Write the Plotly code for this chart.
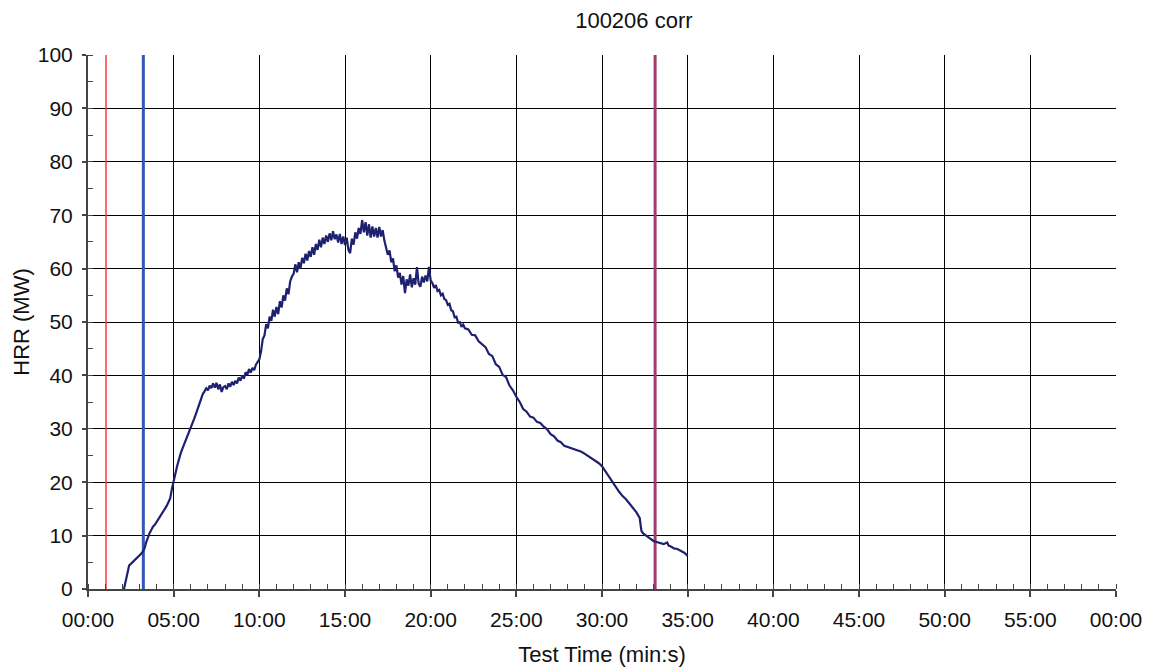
import plotly.graph_objects as go

# ---- data ----
time_min = [
    2.10, 2.20, 2.30, 2.40, 2.50, 2.60, 2.70, 2.80, 2.90, 3.00,
    3.10, 3.20, 3.30, 3.40, 3.50, 3.60, 3.70, 3.80, 3.90, 4.00,
    4.10, 4.20, 4.30, 4.40, 4.50, 4.60, 4.70, 4.80, 4.90, 5.00,
    5.10, 5.20, 5.30, 5.40, 5.50, 5.60, 5.70, 5.80, 5.90, 6.00,
    6.10, 6.20, 6.30, 6.40, 6.50, 6.60, 6.70, 6.80, 6.90, 7.00,
    7.10, 7.20, 7.30, 7.40, 7.50, 7.60, 7.70, 7.80, 7.90, 8.00,
    8.10, 8.20, 8.30, 8.40, 8.50, 8.60, 8.70, 8.80, 8.90, 9.00,
    9.10, 9.20, 9.30, 9.40, 9.50, 9.60, 9.70, 9.80, 9.90, 10.00,
    10.1, 10.2, 10.3, 10.4, 10.5, 10.6, 10.7, 10.8, 10.9, 11.0,
    11.1, 11.2, 11.3, 11.4, 11.5, 11.6, 11.7, 11.8, 11.9, 12.0,
    12.1, 12.2, 12.3, 12.4, 12.5, 12.6, 12.7, 12.8, 12.9, 13.0,
    13.1, 13.2, 13.3, 13.4, 13.5, 13.6, 13.7, 13.8, 13.9, 14.0,
    14.1, 14.2, 14.3, 14.4, 14.5, 14.6, 14.7, 14.8, 14.9, 15.0,
    15.1, 15.2, 15.3, 15.4, 15.5, 15.6, 15.7, 15.8, 15.9, 16.0,
    16.1, 16.2, 16.3, 16.4, 16.5, 16.6, 16.7, 16.8, 16.9, 17.0,
    17.1, 17.2, 17.3, 17.4, 17.5, 17.6, 17.7, 17.8, 17.9, 18.0,
    18.1, 18.2, 18.3, 18.4, 18.5, 18.6, 18.7, 18.8, 18.9, 19.0,
    19.1, 19.2, 19.3, 19.4, 19.5, 19.6, 19.7, 19.8, 19.9, 20.0,
    20.1, 20.2, 20.3, 20.4, 20.5, 20.6, 20.7, 20.8, 20.9, 21.0,
    21.1, 21.2, 21.3, 21.4, 21.5, 21.6, 21.7, 21.8, 21.9, 22.0,
    22.2, 22.4, 22.6, 22.8, 23.0,
    23.2, 23.4, 23.6, 23.8, 24.0, 24.2, 24.4, 24.6, 24.8, 25.0,
    25.2, 25.4, 25.6, 25.8, 26.0, 26.2, 26.4, 26.6, 26.8, 27.0,
    27.2, 27.4, 27.6, 27.8, 28.0, 28.2, 28.4, 28.6, 28.8, 29.0,
    29.2, 29.4, 29.6, 29.8, 30.0, 30.2, 30.4, 30.6, 30.8, 31.0,
    31.2, 31.4, 31.6, 31.8, 32.0, 32.2, 32.3, 32.4, 32.6, 32.8,
    33.0, 33.2, 33.4, 33.6, 33.8, 33.9, 34.0, 34.2, 34.4, 34.6,
    34.8, 35.0,
]

hrr_mw = [
    0.0, 1.5, 3.5, 4.4, 4.7, 5.0, 5.3, 5.6, 6.0, 6.3,
    6.6, 7.0, 7.6, 8.8, 9.8, 10.5, 11.1, 11.7, 12.0, 12.5,
    13.2, 13.6, 14.0, 14.6, 15.0, 15.6, 16.3, 17.0, 18.8, 20.0,
    21.6, 23.0, 24.3, 25.3, 26.2, 27.0, 27.6, 28.6, 29.3, 30.0,
    30.8, 31.9, 32.8, 33.8, 34.8, 35.8, 36.5, 37.0, 37.6, 37.2,
    38.1, 37.6, 38.5, 37.7, 38.6, 37.4, 38.3, 36.9, 37.8, 38.0,
    37.4, 38.5, 37.9, 38.8, 38.2, 39.0, 38.5, 39.6, 39.0, 40.0,
    39.4, 40.6, 40.1, 41.2, 40.5, 41.4, 41.0, 42.0, 42.6, 43.0,
    44.5, 46.8, 47.5, 49.6, 48.8, 51.0, 50.2, 52.3, 51.0, 52.8,
    51.5, 53.9, 52.7, 55.0, 54.0, 56.3, 55.2, 57.6, 58.5, 59.0,
    60.8, 59.3, 61.2, 60.0, 62.0, 61.0, 62.8, 61.5, 63.3, 62.2,
    64.0, 62.6, 64.6, 63.5, 65.4, 64.0, 65.8, 64.6, 66.2, 65.0,
    66.6, 65.3, 67.0, 65.5, 66.4, 64.9, 66.5, 64.6, 66.0, 64.4,
    65.8, 63.5, 62.9, 65.6, 64.5, 66.8, 65.6, 67.6, 66.5, 69.1,
    66.8, 68.7, 66.2, 68.3, 65.8, 67.9, 66.0, 67.6, 65.8, 67.8,
    66.0, 67.2, 65.2, 64.0, 62.6, 63.4, 61.2, 61.9, 59.5, 60.6,
    58.3, 59.2, 57.0, 58.6, 55.4, 58.0, 56.8, 58.9, 56.5, 58.2,
    57.0, 60.3, 57.2, 56.6, 58.5, 57.4, 58.7, 57.6, 60.3, 57.8,
    57.3, 56.4, 56.9, 55.8, 56.0, 55.0, 55.3, 54.3, 54.1, 53.2,
    53.4, 52.2, 52.0, 50.9, 51.0, 49.9, 50.0, 49.1, 49.5, 48.8,
    48.6, 47.6, 47.5, 46.4, 45.9,
    45.3, 44.0, 43.6, 42.1, 41.6, 40.1, 39.7, 38.1, 37.2, 36.0,
    35.0, 33.7, 33.2, 32.3, 32.1, 31.3, 31.1, 30.4, 29.9, 29.0,
    28.6, 27.8, 27.5, 26.8, 26.6, 26.3, 26.1, 25.9, 25.7, 25.3,
    24.9, 24.4, 24.0, 23.6, 23.0, 22.0, 21.0, 20.0, 19.1, 18.2,
    17.4, 16.8, 16.0, 15.3, 14.4, 13.3, 10.9, 10.4, 10.0, 9.5,
    9.0, 8.8, 8.6, 8.4, 8.7, 8.1, 8.0, 7.6, 7.5, 7.1,
    6.8, 6.2,
]

# vertical event markers (minutes) and their colours
event_times = [1.05, 3.23, 33.1]
event_colors = ["#ff3b3b", "#3556b8", "#a23a72"]
event_widths = [1.5, 3, 3]

x_tick_vals = [0, 5, 10, 15, 20, 25, 30, 35, 40, 45, 50, 55, 60]
x_tick_labels = ["00:00", "05:00", "10:00", "15:00", "20:00", "25:00", "30:00",
                 "35:00", "40:00", "45:00", "50:00", "55:00", "00:00"]
y_tick_vals = [0, 10, 20, 30, 40, 50, 60, 70, 80, 90, 100]

title_text = "100206 corr"
x_title = "Test Time (min:s)"
y_title = "HRR (MW)"

FONT = "Liberation Sans, Arial, sans-serif"

fig = go.Figure()

for t, c, w in zip(event_times, event_colors, event_widths):
    fig.add_trace(go.Scatter(
        x=[t, t], y=[0, 100], mode="lines",
        line=dict(color=c, width=w), hoverinfo="skip", showlegend=False,
    ))

fig.add_trace(go.Scatter(
    x=time_min, y=hrr_mw, mode="lines",
    line=dict(color="#1e216f", width=2.2), showlegend=False,
))

fig.update_layout(
    width=1150, height=669,
    margin=dict(l=88, r=34, t=55, b=80),
    paper_bgcolor="white", plot_bgcolor="white",
    font=dict(family=FONT, size=21, color="#111"),
    title=dict(text=title_text, x=0.531, xanchor="center", y=0.97, yanchor="middle",
               xref="paper", font=dict(size=22, family=FONT, color="#111")),
)

fig.update_xaxes(
    range=[0, 60], tickmode="array", tickvals=x_tick_vals, ticktext=x_tick_labels,
    showgrid=True, gridcolor="#000000", gridwidth=1.2,
    ticks="outside", ticklen=6, tickcolor="#444", tickwidth=1.5,
    minor=dict(dtick=1, ticks="inside", ticklen=5, tickcolor="#444", tickwidth=1.2, showgrid=False),
    showline=True, linecolor="#444", linewidth=2, mirror=False,
    zeroline=False, automargin=False,
    title=dict(text=x_title, font=dict(size=22), standoff=16),
    tickfont=dict(size=21), ticklabelstandoff=5,
)
fig.update_yaxes(
    range=[0, 100], tickmode="array", tickvals=y_tick_vals,
    showgrid=True, gridcolor="#000000", gridwidth=1.2,
    ticks="outside", ticklen=4, tickcolor="#444", tickwidth=1.5,
    minor=dict(dtick=5, ticks="inside", ticklen=5, tickcolor="#444", tickwidth=1.2, showgrid=False),
    showline=True, linecolor="#444", linewidth=2, mirror=False,
    zeroline=False, automargin=False,
    title=dict(text=y_title, font=dict(size=22), standoff=2),
    tickfont=dict(size=21), ticklabelstandoff=5,
)

fig.write_html("out.html")
